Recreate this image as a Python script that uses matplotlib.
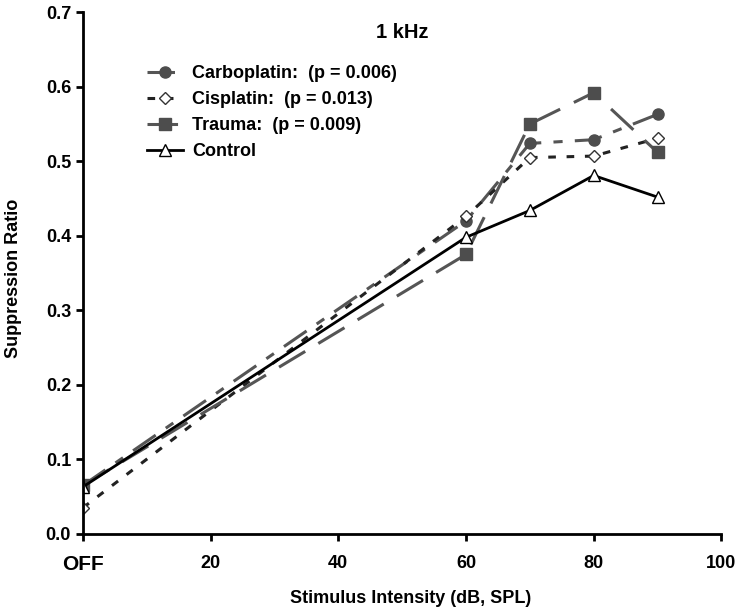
import matplotlib
matplotlib.use("Agg")
import matplotlib.pyplot as plt

plt.rcParams['font.family'] = ['Liberation Sans', 'DejaVu Sans']
plt.rcParams['font.weight'] = 'bold'

# ====== データ ======
x_vals = [0, 60, 70, 80, 90]
carboplatin = [0.065, 0.420, 0.524, 0.529, 0.563]
cisplatin = [0.035, 0.426, 0.505, 0.507, 0.531]
trauma = [0.065, 0.375, 0.550, 0.592, 0.512]
control = [0.063, 0.398, 0.434, 0.481, 0.452]

labels = ["Carboplatin:  (p = 0.006)", "Cisplatin:  (p = 0.013)",
          "Trauma:  (p = 0.009)", "Control"]
x_ticks = [0, 20, 40, 60, 80, 100]
x_tick_labels = ["OFF", "20", "40", "60", "80", "100"]
y_ticks = [0.0, 0.1, 0.2, 0.3, 0.4, 0.5, 0.6, 0.7]

# ====== グラフ ======
fig = plt.figure(figsize=(7.46, 6.13), dpi=100)
ax = fig.add_axes([0.111, 0.129, 0.856, 0.851])

gray = "#555555"
ax.plot(x_vals, carboplatin, color=gray, lw=2.2, dashes=(9, 4, 3, 4),
        marker="o", ms=8, mfc="#4d4d4d", mec="#4d4d4d", label=labels[0])
ax.plot(x_vals, cisplatin, color="#222222", lw=2.2, dashes=(2.5, 3.5),
        marker="D", ms=6.5, mfc="white", mec="#333333", mew=1, label=labels[1])
ax.plot(x_vals, trauma, color=gray, lw=2.2, dashes=(10, 5),
        marker="s", ms=8, mfc="#4d4d4d", mec="#4d4d4d", label=labels[2])
ax.plot(x_vals, control, color="black", lw=2,
        marker="^", ms=9, mfc="white", mec="black", mew=1, label=labels[3])

ax.set_xlim(0, 100)
ax.set_ylim(0, 0.7)
ax.set_xticks(x_ticks)
ax.set_xticklabels(x_tick_labels, fontsize=13, fontweight="bold")
ax.get_xticklabels()[0].set_fontsize(15)
ax.set_yticks(y_ticks)
ax.set_yticklabels([f"{v:.1f}" for v in y_ticks], fontsize=13, fontweight="bold")

for s in ["top", "right"]:
    ax.spines[s].set_visible(False)
for s in ["left", "bottom"]:
    ax.spines[s].set_linewidth(2)
ax.tick_params(direction="out", width=2, length=5)
ax.tick_params(axis="x", pad=10)

ax.set_xlabel("Stimulus Intensity (dB, SPL)", fontsize=13, fontweight="bold")
ax.xaxis.set_label_coords(0.514, -0.108)
ax.set_ylabel("Suppression Ratio", fontsize=13, fontweight="bold")
ax.yaxis.set_label_coords(-0.095, 0.49)

ax.text(0.5, 0.962, "1 kHz", transform=ax.transAxes, ha="center", va="center",
        fontsize=14.5, fontweight="bold")

leg = ax.legend(loc="upper left", bbox_to_anchor=(0.075, 0.93), frameon=False,
                handlelength=2.0, handletextpad=0.5, labelspacing=0.5,
                prop={"weight": "bold", "size": 13})

fig.savefig("out.png", dpi=100)
